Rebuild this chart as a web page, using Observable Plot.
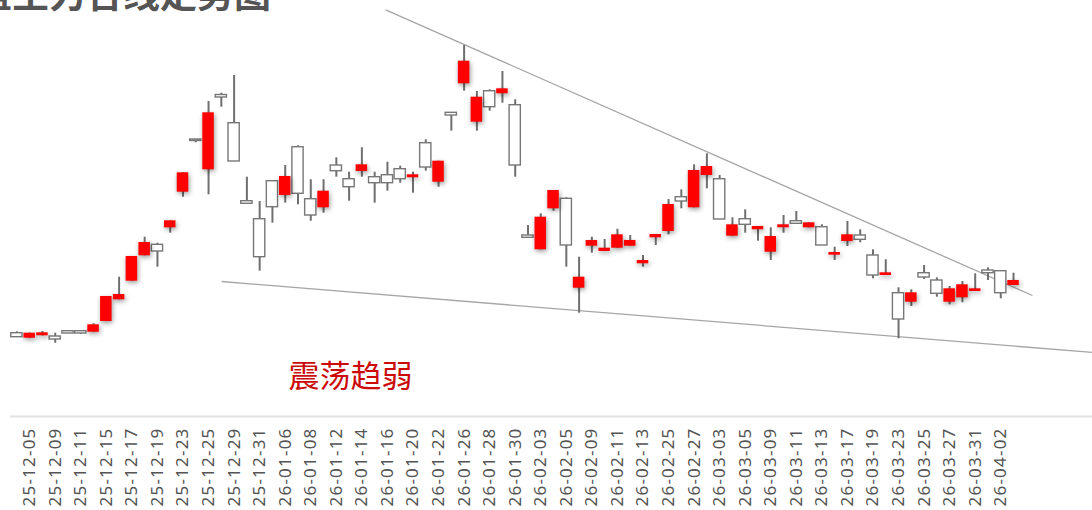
<!DOCTYPE html>
<html><head><meta charset="utf-8">
<script src="https://cdn.jsdelivr.net/npm/d3@7"></script>
<script src="https://cdn.jsdelivr.net/npm/@observablehq/plot@0.6"></script>
<style>
html,body{margin:0;padding:0;background:#fff;}
body{width:1092px;height:510px;overflow:hidden;position:relative;}
#title{position:absolute;left:-25px;top:-26px;font-family:"Noto Sans CJK SC";font-weight:bold;font-size:37px;color:#555;white-space:nowrap;line-height:1;z-index:2;}
#chart{position:absolute;left:0;top:0;}
g[aria-label="x-axis tick label"] text{letter-spacing:1.2px;}
</style></head><body>
<div id="title">盘主力合线走势图</div>
<div id="chart"></div>
<script>
const dates = ["25-12-04","25-12-05","25-12-08","25-12-09","25-12-10","25-12-11","25-12-12","25-12-15","25-12-16","25-12-17",
"25-12-18","25-12-19","25-12-22","25-12-23","25-12-24","25-12-25","25-12-26","25-12-29","25-12-30","25-12-31",
"26-01-05","26-01-06","26-01-07","26-01-08","26-01-09","26-01-12","26-01-13","26-01-14","26-01-15","26-01-16",
"26-01-19","26-01-20","26-01-21","26-01-22","26-01-23","26-01-26","26-01-27","26-01-28","26-01-29","26-01-30",
"26-02-02","26-02-03","26-02-04","26-02-05","26-02-06","26-02-09","26-02-10","26-02-11","26-02-12","26-02-13",
"26-02-24","26-02-25","26-02-26","26-02-27","26-03-02","26-03-03","26-03-04","26-03-05","26-03-06","26-03-09",
"26-03-10","26-03-11","26-03-12","26-03-13","26-03-16","26-03-17","26-03-18","26-03-19","26-03-20","26-03-23",
"26-03-24","26-03-25","26-03-26","26-03-27","26-03-30","26-03-31","26-04-01","26-04-02","26-04-03"];
const open = [10.73,10.23,10.47,10.40,10.93,10.93,10.83,11.90,14.07,15.93,
18.47,19.57,21.27,24.83,30.10,27.07,34.55,31.73,23.93,22.13,
25.93,24.50,29.33,24.13,23.27,27.50,26.13,26.90,26.33,26.53,
27.13,26.27,29.73,25.83,32.77,35.67,31.83,34.93,34.67,33.53,
20.50,19.07,23.17,24.17,15.23,19.43,18.90,19.23,19.43,17.67,
20.27,20.90,24.33,23.27,26.50,26.13,20.43,22.13,21.07,18.83,
21.27,21.93,21.27,21.33,18.53,19.90,20.50,18.50,16.50,14.73,
13.83,16.73,16.00,13.83,14.27,14.90,17.00,16.93,15.50];
const close = [10.33,10.73,10.77,10.10,10.70,10.70,11.57,14.40,14.60,18.40,
19.80,18.90,21.97,26.77,29.95,32.77,34.30,27.90,23.67,18.33,
23.33,26.40,24.67,22.50,24.93,26.93,25.33,27.57,25.73,25.73,
26.13,26.57,27.30,27.93,32.50,37.93,34.33,33.33,35.17,27.50,
20.27,22.33,25.00,19.50,16.33,20.00,19.23,20.57,20.00,18.00,
20.60,23.60,23.90,27.00,27.40,22.10,21.57,21.57,21.40,20.40,
21.57,21.67,21.77,19.50,18.80,20.57,20.07,16.50,16.77,12.10,
14.77,16.30,14.67,15.17,15.57,15.17,16.73,14.73,16.00];
const high = [10.87,10.75,10.90,10.73,10.93,10.93,11.67,14.40,16.33,18.40,
20.33,19.73,21.97,26.77,30.10,33.90,34.73,36.50,26.33,23.90,
25.93,27.50,29.47,26.07,26.07,28.27,26.83,29.27,26.83,27.83,
27.43,26.83,30.07,27.93,32.77,39.50,34.90,35.07,36.90,34.07,
21.50,22.67,25.00,24.27,18.33,20.33,20.10,21.13,20.50,18.50,
20.60,24.10,25.07,27.57,28.67,26.50,22.27,23.07,21.40,21.27,
22.50,22.90,21.77,21.57,19.33,21.90,21.07,19.07,18.07,15.27,
15.07,17.50,16.27,15.40,15.90,16.67,17.27,16.93,16.73];
const low = [10.30,10.20,10.45,9.73,10.70,10.60,10.83,11.90,14.07,15.93,
18.47,17.33,20.73,24.33,29.77,24.57,33.33,27.90,23.67,16.93,
21.73,23.73,23.57,21.93,22.73,26.33,23.93,26.33,23.73,24.93,
25.73,24.73,26.93,25.33,30.93,34.93,30.93,32.93,33.73,26.33,
20.27,19.07,22.93,17.33,12.73,18.73,18.90,19.23,19.43,17.33,
19.50,20.57,23.17,23.27,25.17,22.10,20.43,20.73,19.93,18.00,
20.73,21.67,21.27,19.50,18.00,19.40,19.77,16.17,16.50,10.17,
13.40,16.10,14.33,13.57,13.77,14.90,16.00,14.17,15.50];
// trend lines: start index/value and end index/value
const trendFrom = [28.86, 16.02];
const trendFromValue = [43.07, 15.90];
const trendTo = [79.48, 84.18];
const trendToValue = [14.50, 8.80];
const noteText = ["震荡趋弱"];
const noteIndex = [26.1];
const noteValue = [6.35];

const data = dates.map((d, i) => ({i, d, o: open[i], c: close[i], h: high[i], l: low[i], up: close[i] > open[i]}));
const trends = trendFrom.map((x1, k) => ({x1, y1: trendFromValue[k], x2: trendTo[k], y2: trendToValue[k]}));
const notes = noteText.map((t, k) => ({t, x: noteIndex[k], y: noteValue[k]}));
const tickIdx = dates.map((d, i) => i).filter(i => i % 2 === 1);
const yMin = 2.4;

const chart = Plot.plot({
  width: 1092, height: 510,
  marginTop: 0, marginLeft: 10, marginRight: 0, marginBottom: 94,
  x: {domain: [-0.5, 84.18], axis: null},
  y: {domain: [yMin, 44], axis: null},
  style: {fontFamily: '"Noto Sans", sans-serif', background: "#fff", overflow: "visible"},
  marks: [
    Plot.ruleY([yMin], {stroke: "#e2e2e2", strokeWidth: 2}),
    Plot.axisX({ticks: tickIdx, tickFormat: i => dates[i], tickRotate: -90, tickSize: 0, tickPadding: 11, fontSize: 17, color: "#555"}),
    Plot.link(trends, {x1: "x1", y1: "y1", x2: "x2", y2: "y2", stroke: "#a6a6a6", strokeWidth: 1.3}),
    Plot.ruleX(data, {x: "i", y1: "l", y2: "h", stroke: "#6f6f6f", strokeWidth: 2}),
    Plot.rect(data.filter(d => !d.up), {x1: d => d.i - 0.44, x2: d => d.i + 0.44, y1: "o", y2: "c", fill: "#fff", stroke: "#777", strokeWidth: 1.4}),
    Plot.rect(data.filter(d => d.up), {x1: d => d.i - 0.45, x2: d => d.i + 0.45, y1: "o", y2: "c", fill: "#ff0000", ariaDescription: "up"}),
    Plot.text(notes, {x: "x", y: "y", text: "t", fontSize: 31, fill: "#cc0a0a", fontFamily: '"Noto Sans CJK SC"', textAnchor: "middle", lineAnchor: "middle"})
  ]
});
chart.querySelectorAll('g[aria-description="up"]').forEach(g => g.setAttribute("style", "filter: drop-shadow(1px 2px 2.5px rgba(0,0,0,0.4))"));
document.getElementById("chart").appendChild(chart);
</script>
</body></html>
